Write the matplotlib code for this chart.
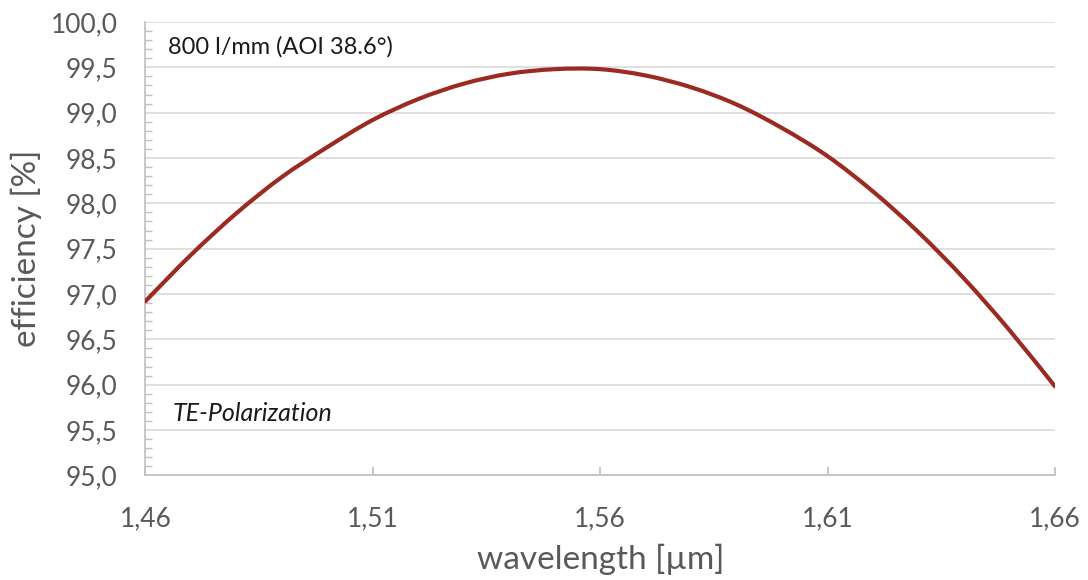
import numpy as np
import matplotlib.pyplot as plt
from matplotlib.path import Path
from matplotlib.patches import PathPatch
from matplotlib.ticker import FuncFormatter, MultipleLocator

# efficiency curve (TE, 800 l/mm)
wavelength = [1.46, 1.47, 1.48, 1.49, 1.50, 1.51, 1.52, 1.53, 1.54, 1.55, 1.56,
              1.57, 1.58, 1.59, 1.60, 1.61, 1.62, 1.63, 1.64, 1.65, 1.66]
efficiency = [96.92, 97.43, 97.89, 98.29, 98.62, 98.92, 99.15, 99.32, 99.43, 99.48, 99.48,
              99.41, 99.28, 99.09, 98.83, 98.52, 98.13, 97.68, 97.17, 96.60, 95.98]
xticks = [1.46, 1.51, 1.56, 1.61, 1.66]

plt.rcParams['font.family'] = ['Lato', 'DejaVu Sans']

fig = plt.figure(figsize=(10.88, 5.80), dpi=100)
ax = fig.add_axes([0.1336, 0.1805, 0.8361, 0.7815])

# smoothed line (like a spreadsheet "smooth line"): Catmull-Rom segments as cubic Beziers
pts = np.column_stack([wavelength, efficiency])
n = len(pts)
verts = [pts[0]]
codes = [Path.MOVETO]
for i in range(n - 1):
    p0 = pts[max(i - 1, 0)]
    p1 = pts[i]
    p2 = pts[i + 1]
    p3 = pts[min(i + 2, n - 1)]
    verts += [p1 + (p2 - p0) / 6, p2 - (p3 - p1) / 6, p2]
    codes += [Path.CURVE4] * 3
ax.add_patch(PathPatch(Path(verts, codes), fill=False, edgecolor='#9b2b22',
                       lw=3.0, capstyle='round', zorder=3))

ax.set_xlim(1.46, 1.66)
ax.set_ylim(95, 100)
ax.set_xticks(xticks)
ax.yaxis.set_major_locator(MultipleLocator(0.5))
ax.yaxis.set_minor_locator(MultipleLocator(0.1))
ax.xaxis.set_major_formatter(FuncFormatter(lambda v, p: f'{v:.2f}'.replace('.', ',')))
ax.yaxis.set_major_formatter(FuncFormatter(lambda v, p: f'{v:.1f}'.replace('.', ',')))

ax.grid(axis='y', color='#d9d9d9', lw=1.2)
ax.set_axisbelow(True)
for s in ['top', 'right']:
    ax.spines[s].set_visible(False)
for s in ['left', 'bottom']:
    ax.spines[s].set_color('#bfbfbf')
    ax.spines[s].set_linewidth(1.2)

ax.tick_params(axis='x', direction='in', length=6, color='#bfbfbf', width=1.2,
               labelsize=19, labelcolor='#595959', pad=22)
ax.tick_params(axis='y', which='major', length=0, labelsize=19, labelcolor='#595959', pad=20)
ax.tick_params(axis='y', which='minor', direction='in', length=5, color='#bfbfbf', width=1)

ax.set_xlabel('wavelength [µm]', fontsize=24, color='#595959', labelpad=9)
ax.set_ylabel('efficiency [%]', fontsize=24, color='#595959', labelpad=6)

ax.text(0.025, 0.945, '800 l/mm (AOI 38.6°)', transform=ax.transAxes, fontsize=17,
        color='#1a1a1a', va='center')
ax.text(0.03, 0.137, 'TE-Polarization', transform=ax.transAxes, fontsize=18,
        style='italic', color='#1a1a1a', va='center')

plt.savefig('out.png', dpi=100)
